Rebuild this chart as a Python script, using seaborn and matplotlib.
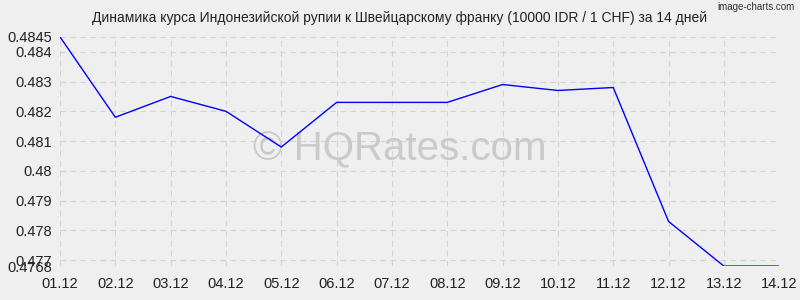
import matplotlib
matplotlib.use("Agg")
import matplotlib.pyplot as plt
import seaborn as sns
import pandas as pd

dates = ["01.12", "02.12", "03.12", "04.12", "05.12", "06.12", "07.12",
         "08.12", "09.12", "10.12", "11.12", "12.12", "13.12", "14.12"]
rates = [0.4845, 0.4818, 0.4825, 0.4820, 0.4808, 0.4823, 0.4823,
         0.4823, 0.4829, 0.4827, 0.4828, 0.4783, 0.4768, 0.4768]
yticks = [0.4768, 0.477, 0.478, 0.479, 0.48, 0.481, 0.482, 0.483, 0.484, 0.4845]
ytick_labels = ["0.4768", "0.477", "0.478", "0.479", "0.48", "0.481", "0.482", "0.483", "0.484", "0.4845"]
title = "Динамика курса Индонезийской рупии к Швейцарскому франку (10000 IDR / 1 CHF) за 14 дней"

sns.set_style("white")
plt.rcParams['font.family'] = ['Liberation Sans', 'DejaVu Sans']

df = pd.DataFrame({"x": range(len(dates)), "rate": rates})

fig = plt.figure(figsize=(8, 3), dpi=100, facecolor="#efefef")
ax = fig.add_axes([0.075, 0.113, 0.899, 0.764])
ax.set_facecolor("#efefef")

sns.lineplot(data=df, x="x", y="rate", ax=ax, color="#0000ff", linewidth=1, zorder=3)

ax.set_xlim(0, len(dates) - 1)
ax.set_ylim(0.4768, 0.4845)
ax.set_xticks(range(len(dates)))
ax.set_xticklabels(dates, fontsize=10.5, color="#222222")
ax.set_yticks(yticks)
ax.set_yticklabels(ytick_labels, fontsize=10.5, color="#222222")
ax.set_xlabel("")
ax.set_ylabel("")
for s in ax.spines.values():
    s.set_visible(False)
ax.grid(True, color="#d4d4d4", linestyle=(0, (5, 4)), linewidth=0.8)
ax.tick_params(axis="y", length=4, color="#d4d4d4", pad=2)
ax.tick_params(axis="x", length=0, pad=8)

ax.text(0.473, 0.51, "© HQRates.com", transform=ax.transAxes, ha="center", va="center",
        fontsize=29, color="#cacaca", zorder=1)

fig.text(0.5, 0.94, title, ha="center", va="center", fontsize=10, color="#222222")
fig.text(0.993, 0.975, "image-charts.com", ha="right", va="center", fontsize=7, color="#333333")

fig.savefig("out.png", dpi=100, facecolor=fig.get_facecolor())
